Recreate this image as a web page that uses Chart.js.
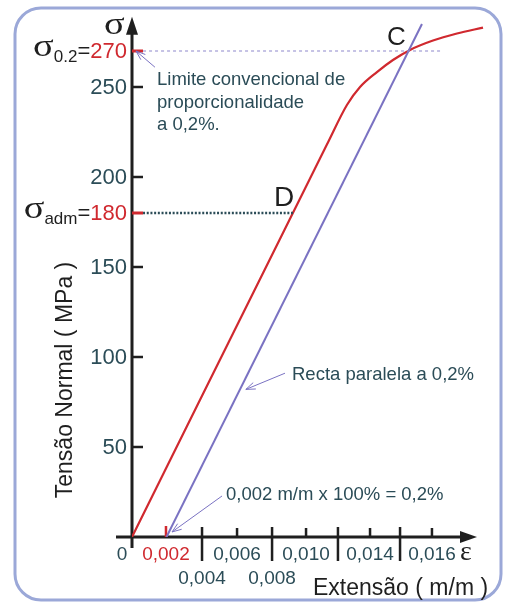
<!DOCTYPE html>
<html><head><meta charset="utf-8">
<script src="https://cdn.jsdelivr.net/npm/chart.js@4"></script>
<style>html,body{margin:0;padding:0;background:#fff}</style>
</head><body>
<canvas id="c" width="505" height="602"></canvas>
<script>
// ---- data ----
const curveStrain = [0, 0.0113, 0.01246, 0.01322, 0.0142, 0.01513, 0.01612, 0.01745, 0.01884, 0.02035];
const curveStress = [0, 218, 240, 250, 258.3, 265, 270.6, 275.8, 279.7, 283];
const offsetStrain = [0.002, 0.01681];
const offsetStress = [0, 285];
const yieldStress = 270;
const yieldLineStrain = [0.00064, 0.01803];
const admStress = 180;
const admLineStrain = [0.00064, 0.00933];
const yTicks = [50, 100, 150, 180, 200, 250, 270];
const yTickLabels = ['50', '100', '150', '180', '200', '250', '270'];
const xTicks = [0.00197, 0.00406, 0.00609, 0.00812, 0.01009, 0.01194, 0.0138, 0.01554, 0.01739];
const xTickLabels = ['0,002', '0,004', '0,006', '0,008', '0,010', '', '0,014', '', '0,016'];
const xLabelRow = [0, 1, 0, 1, 0, 0, 0, 0, 0];
const xLongTick = [false, true, false, true, false, true, false, true, false];

const RED = '#d0292f', PURPLE = '#7a72c2', TEAL = '#2b4c57', DARK = '#1f1f1f';
const SANS = '"Liberation Sans", Arial, sans-serif';
const SERIF = '"Liberation Serif", "DejaVu Serif", serif';

function pts(xs, ys) { return xs.map((x, i) => ({x, y: ys[i]})); }

const XMAX = 0.0205, YMAX = 289;

function arrow(ctx, x1, y1, x2, y2, color) {
  ctx.save();
  ctx.strokeStyle = color; ctx.lineWidth = 1;
  ctx.beginPath(); ctx.moveTo(x1, y1); ctx.lineTo(x2, y2); ctx.stroke();
  const a = Math.atan2(y2 - y1, x2 - x1), L = 10, w = 0.35;
  ctx.beginPath();
  ctx.moveTo(x2 - L * Math.cos(a - w), y2 - L * Math.sin(a - w));
  ctx.lineTo(x2, y2);
  ctx.lineTo(x2 - L * Math.cos(a + w), y2 - L * Math.sin(a + w));
  ctx.stroke();
  ctx.restore();
}

const deco = {
  id: 'deco',
  beforeDatasetsDraw(chart) {
    const ctx = chart.ctx, xs = chart.scales.x, ys = chart.scales.y;
    const x0 = xs.getPixelForValue(0), y0 = ys.getPixelForValue(0);
    ctx.save();
    ctx.strokeStyle = DARK; ctx.fillStyle = DARK; ctx.lineWidth = 3;
    // y axis
    const yTop = ys.getPixelForValue(YMAX);
    ctx.beginPath(); ctx.moveTo(x0, y0 + 11); ctx.lineTo(x0, yTop + 14); ctx.stroke();
    ctx.beginPath(); ctx.moveTo(x0, yTop); ctx.lineTo(x0 - 6, yTop + 18); ctx.lineTo(x0 + 6, yTop + 18); ctx.closePath(); ctx.fill();
    // x axis
    const xEnd = xs.getPixelForValue(0.02);
    ctx.beginPath(); ctx.moveTo(x0 - 16, y0); ctx.lineTo(xEnd - 12, y0); ctx.stroke();
    ctx.beginPath(); ctx.moveTo(xEnd, y0); ctx.lineTo(xEnd - 17, y0 - 6); ctx.lineTo(xEnd - 17, y0 + 6); ctx.closePath(); ctx.fill();
    // y ticks
    yTicks.forEach((v, i) => {
      const y = ys.getPixelForValue(v);
      const special = (v === yieldStress || v === admStress);
      ctx.strokeStyle = special ? RED : DARK;
      ctx.lineWidth = special ? 3 : 2.5;
      ctx.beginPath(); ctx.moveTo(x0, y); ctx.lineTo(x0 + 11, y); ctx.stroke();
    });
    // x ticks
    xTicks.forEach((v, i) => {
      const x = xs.getPixelForValue(v);
      ctx.strokeStyle = i === 0 ? RED : DARK;
      ctx.lineWidth = 2.5;
      ctx.beginPath();
      if (i === 0) { ctx.moveTo(x, y0 - 11); ctx.lineTo(x, y0); }
      else if (xLongTick[i]) { ctx.moveTo(x, y0 - 10); ctx.lineTo(x, y0 + 24); }
      else { ctx.moveTo(x, y0 - 9); ctx.lineTo(x, y0); }
      ctx.stroke();
    });
    ctx.restore();
  },
  afterDraw(chart) {
    const ctx = chart.ctx, xs = chart.scales.x, ys = chart.scales.y;
    const x0 = xs.getPixelForValue(0), y0 = ys.getPixelForValue(0);
    const P = (x, y) => [xs.getPixelForValue(x), ys.getPixelForValue(y)];
    ctx.save();
    // border
    ctx.strokeStyle = '#9ba8d8'; ctx.lineWidth = 3;
    ctx.beginPath(); ctx.roundRect(15, 8, 486, 592, 26); ctx.stroke();

    // y tick labels
    ctx.textAlign = 'right'; ctx.textBaseline = 'middle';
    yTicks.forEach((v, i) => {
      const y = ys.getPixelForValue(v);
      const special = (v === yieldStress || v === admStress);
      ctx.fillStyle = special ? RED : TEAL;
      ctx.font = '22px ' + SANS;
      const lx = x0 - 5;
      ctx.fillText(yTickLabels[i], lx, y + 1);
      if (special) {
        let w = ctx.measureText(yTickLabels[i]).width;
        let cx = lx - w;
        ctx.fillStyle = DARK;
        ctx.fillText('=', cx, y + 1);
        cx -= ctx.measureText('=').width;
        const sub = v === yieldStress ? '0.2' : 'adm';
        ctx.font = '17px ' + SANS;
        ctx.fillText(sub, cx, y + 6);
        cx -= ctx.measureText(sub).width;
        ctx.font = '32px ' + SERIF;
        ctx.save();
        ctx.translate(cx, y - 3); ctx.scale(1.2, 1);
        ctx.fillText('σ', 0, 0);
        ctx.restore();
      }
    });

    // x tick labels
    ctx.font = '19px ' + SANS; ctx.textAlign = 'center'; ctx.textBaseline = 'alphabetic';
    ctx.fillStyle = TEAL;
    ctx.fillText('0', x0 - 10, y0 + 23);
    xTicks.forEach((v, i) => {
      if (!xTickLabels[i]) return;
      const x = xs.getPixelForValue(v);
      ctx.fillStyle = i === 0 ? RED : TEAL;
      ctx.fillText(xTickLabels[i], x, y0 + (xLabelRow[i] ? 47 : 23));
    });

    // axis symbols
    ctx.fillStyle = DARK; ctx.textAlign = 'left';
    ctx.font = '32px ' + SERIF;
    ctx.save(); ctx.translate(104, 34); ctx.scale(1.2, 1); ctx.fillText('σ', 0, 0); ctx.restore();
    ctx.font = '28px ' + SERIF;
    ctx.fillText('ε', 460, y0 + 23);

    // axis titles
    ctx.font = '23px ' + SANS; ctx.fillStyle = DARK;
    ctx.textAlign = 'left';
    ctx.fillText('Extensão ( m/m )', 313, 595);
    ctx.save(); ctx.translate(72, 380); ctx.rotate(-Math.PI / 2);
    ctx.textAlign = 'center'; ctx.fillText('Tensão Normal ( MPa )', 0, 0); ctx.restore();

    // point labels
    ctx.font = '28px ' + SANS; ctx.fillStyle = DARK; ctx.textAlign = 'left';
    ctx.fillText('D', 274, 206);
    ctx.font = '26px ' + SANS;
    ctx.fillText('C', 387, 45);

    // annotations
    ctx.font = '18.5px ' + SANS; ctx.fillStyle = TEAL;
    ctx.fillText('Limite convencional de', 157, 85);
    ctx.fillText('proporcionalidade', 157, 107.5);
    ctx.fillText('a 0,2%.', 157, 130);
    ctx.fillText('Recta paralela a 0,2%', 292, 380);
    ctx.fillText('0,002 m/m x 100% = 0,2%', 226, 500);

    let a, b;
    a = P(0.00133, 261); b = P(0.00023, 270); arrow(ctx, a[0], a[1], b[0], b[1], PURPLE);
    a = P(0.00887, 91); b = P(0.0066, 82); arrow(ctx, a[0], a[1], b[0], b[1], PURPLE);
    a = P(0.00522, 22.8); b = P(0.00232, 2.8); arrow(ctx, a[0], a[1], b[0], b[1], PURPLE);
    ctx.restore();
  }
};

new Chart(document.getElementById('c'), {
  type: 'line',
  data: {
    datasets: [
      { data: pts(yieldLineStrain, [yieldStress, yieldStress]), borderColor: '#8e88cc', borderWidth: 1, borderDash: [3, 3], pointRadius: 0 },
      { data: pts(admLineStrain, [admStress, admStress]), borderColor: TEAL, borderWidth: 2.5, borderDash: [2, 1.7], pointRadius: 0 },
      { data: pts(offsetStrain, offsetStress), borderColor: PURPLE, borderWidth: 2, pointRadius: 0 },
      { data: pts(curveStrain, curveStress), borderColor: RED, borderWidth: 2.2, pointRadius: 0, cubicInterpolationMode: 'monotone' }
    ]
  },
  options: {
    responsive: false, animation: false,
    layout: { padding: { left: 132, right: 19.4, top: 16.8, bottom: 65 } },
    plugins: { legend: { display: false }, tooltip: { enabled: false } },
    scales: {
      x: { type: 'linear', min: 0, max: XMAX, display: false },
      y: { type: 'linear', min: 0, max: YMAX, display: false }
    }
  },
  plugins: [deco]
});
</script>
</body></html>
